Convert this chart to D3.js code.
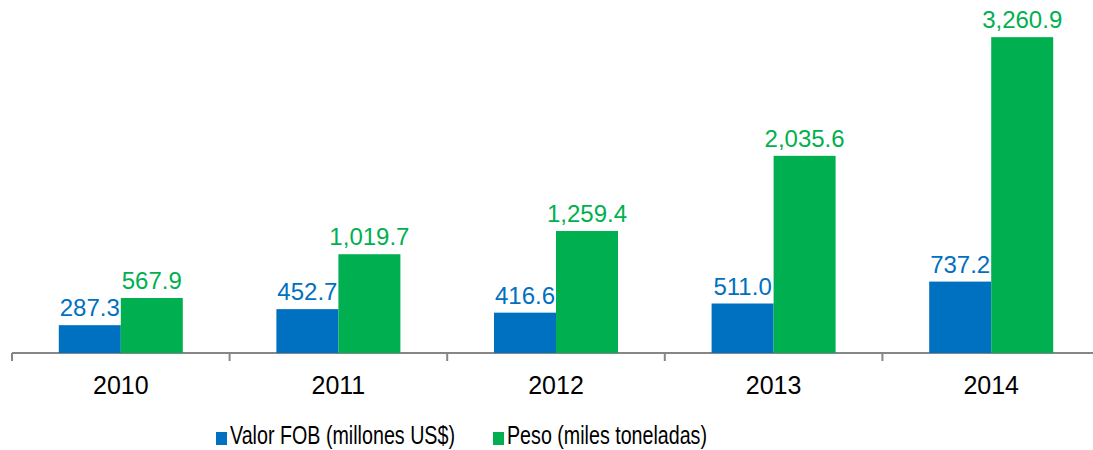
<!DOCTYPE html>
<html>
<head>
<meta charset="utf-8">
<script src="https://cdn.jsdelivr.net/npm/d3@7"></script>
<style>
  body { margin: 0; background: #fff; }
  svg { display: block; font-family: "Liberation Sans", Arial, sans-serif; }
</style>
</head>
<body>
<svg id="chart" width="1093" height="450"></svg>
<script>
const years = ["2010", "2011", "2012", "2013", "2014"]
const valorFob = [287.3, 452.7, 416.6, 511.0, 737.2]
const peso = [567.9, 1019.7, 1259.4, 2035.6, 3260.9]
const seriesNames = ["Valor FOB (millones US$)", "Peso (miles toneladas)"]
const seriesColors = ["#0070C0", "#00B050"]

const svg = d3.select("#chart")
const baseY = 353

const x = d3.scaleBand()
  .domain(years)
  .range([12, 1100])

const inner = d3.scaleBand()
  .domain([0, 1])
  .range([0, 124])

const y = d3.scaleLinear()
  .domain([0, 3500])
  .range([baseY, 14])

const fmt = d3.format(",.1f")

// axis line + ticks
const axis = svg.append("g")
  .attr("transform", "translate(0," + baseY + ")")
  .call(d3.axisBottom(x).tickSize(0).tickFormat(""))
axis.select(".domain").attr("stroke", "#868686").attr("stroke-width", 2).attr("d", "M12,0H1093")
axis.selectAll(".cat-tick")
  .data(years.concat(["end"]))
  .enter().append("line")
  .attr("x1", (d, i) => i < years.length ? x(d) : x(years[4]) + x.bandwidth())
  .attr("x2", (d, i) => i < years.length ? x(d) : x(years[4]) + x.bandwidth())
  .attr("y1", 0).attr("y2", 8)
  .attr("stroke", "#868686").attr("stroke-width", 2)

svg.append("g").selectAll("text")
  .data(years)
  .enter().append("text")
  .attr("x", d => x(d) + x.bandwidth() / 2)
  .attr("y", 394)
  .attr("text-anchor", "middle")
  .attr("font-size", 25)
  .attr("fill", "#000")
  .text(d => d)

const series = [valorFob, peso]
series.forEach((vals, s) => {
  const g = svg.append("g")
  const rows = years.map((yr, i) => ({ yr: yr, v: vals[i] }))
  g.selectAll("rect")
    .data(rows)
    .enter().append("rect")
    .attr("x", d => x(d.yr) + x.bandwidth() / 2 - 62 + inner(s))
    .attr("width", inner.bandwidth())
    .attr("y", d => y(d.v))
    .attr("height", d => baseY - y(d.v))
    .attr("fill", seriesColors[s])
  g.selectAll("text")
    .data(rows)
    .enter().append("text")
    .attr("x", d => x(d.yr) + x.bandwidth() / 2 - 62 + inner(s) + inner.bandwidth() / 2)
    .attr("y", d => y(d.v) - 9)
    .attr("text-anchor", "middle")
    .attr("font-size", 24)
    .attr("fill", seriesColors[s])
    .text(d => fmt(d.v))
})

// legend
const legendX = [216, 493]
seriesNames.forEach((name, s) => {
  svg.append("rect")
    .attr("x", legendX[s]).attr("y", 432)
    .attr("width", 11).attr("height", 13)
    .attr("fill", seriesColors[s])
  svg.append("text")
    .attr("x", legendX[s] + 14).attr("y", 444)
    .attr("font-size", 26)
    .attr("fill", "#000")
    .attr("textLength", s === 0 ? 225 : 200)
    .attr("lengthAdjust", "spacingAndGlyphs")
    .text(name)
})
</script>
</body>
</html>
